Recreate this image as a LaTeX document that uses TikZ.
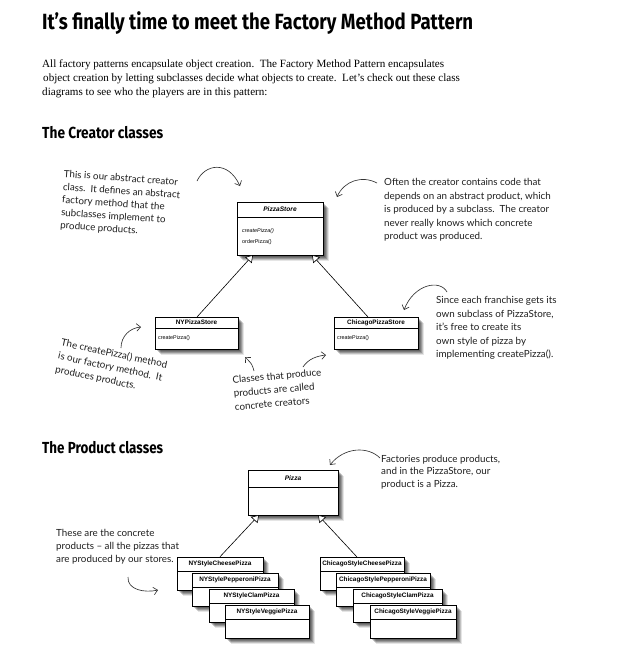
\documentclass[tikz,border=0pt]{standalone}
\usepackage{fontspec}
\usepackage{graphicx}
\setmainfont{Liberation Serif}
\newfontfamily\handfont{Lato}
\newfontfamily\umlfont{Liberation Sans}
\newfontfamily\headfont{Fira Sans}
\usetikzlibrary{arrows.meta,shadows}
\tikzset{
  blurshadow/.style={
    general shadow={fill=black, opacity=.20, shadow xshift=1.5pt, shadow yshift=-1.5pt},
    general shadow={fill=black, opacity=.20, shadow xshift=2.5pt, shadow yshift=-2.5pt},
    general shadow={fill=black, opacity=.20, shadow xshift=3.5pt, shadow yshift=-3.5pt},
    general shadow={fill=black, opacity=.16, shadow xshift=4.5pt, shadow yshift=-4.5pt},
    general shadow={fill=black, opacity=.10, shadow xshift=5.5pt, shadow yshift=-5.5pt}},
  classbox/.style={draw, line width=0.5pt, fill=white, inner sep=0pt, blurshadow},
  classline/.style={line width=0.5pt},
  ctitle/.style={inner sep=0pt, font=\umlfont\bfseries\fontsize{6.4}{7}\selectfont},
  atitle/.style={inner sep=0pt, font=\umlfont\bfseries\itshape\fontsize{6.6}{7}\selectfont},
  cmethod/.style={inner sep=0pt, anchor=west, font=\umlfont\fontsize{5.4}{6}\selectfont},
  amethod/.style={inner sep=0pt, anchor=west, font=\umlfont\itshape\fontsize{5.4}{6}\selectfont},
  genline/.style={line width=0.6pt, -{Triangle[open, length=7pt, width=9pt, fill=white]}},
  handtext/.style={inner sep=0pt, align=left, text=black!88, font=\handfont\fontsize{9.8}{13.6}\selectfont},
  handarrow/.style={line width=0.65pt, black!80, -{Straight Barb[length=4pt, width=7.5pt]}},
  bodytext/.style={inner sep=0pt, anchor=base west, font=\fontsize{11.1}{14}\selectfont},
  heading/.style={inner sep=0pt, anchor=base west}
}
\newcommand{\UMLcls}[8]{%
  \node[classbox, minimum width={(#4-#2)*1pt}, minimum height={(#5-#3)*1pt}] (#1) at ({(#2+#4)/2},{(#3+#5)/2}) {};
  \draw[classline] (#2,#6) -- (#4,#6);
  \node[#8] (#1-title) at ({(#2+#4)/2},{(#3+#6)/2}) {#7};
}
\begin{document}
\begin{tikzpicture}[x=1pt, y=-1pt]
\useasboundingbox (0,0) rectangle (618,648);
\fill[white] (0,0) rectangle (618,648);

% headings and body
\node[heading] (title) at (42,29) {\resizebox{431pt}{\height}{\headfont\bfseries\fontsize{22}{22}\selectfont It’s finally time to meet the Factory Method Pattern}};
\node[bodytext] (p1) at (42,67) {All factory patterns encapsulate object creation.\ \ The Factory Method Pattern encapsulates};
\node[bodytext] (p2) at (43,81) {object creation by letting subclasses decide what objects to create.\ \ Let’s check out these class};
\node[bodytext] (p3) at (42,95) {diagrams to see who the players are in this pattern:};
\node[heading] (h1) at (42,138) {\resizebox{121pt}{\height}{\headfont\bfseries\fontsize{16}{16}\selectfont The Creator classes}};
\node[heading] (h2) at (42,453) {\resizebox{121pt}{\height}{\headfont\bfseries\fontsize{16}{16}\selectfont The Product classes}};

% creator classes
\UMLcls{ps}{237}{202}{323}{255}{217}{PizzaStore}{atitle}
\node[amethod] (ps-m1) at (242,231) {createPizza()};
\node[cmethod] (ps-m2) at (242,242) {orderPizza()};
\UMLcls{ny}{155}{317}{238}{349}{328}{NYPizzaStore}{ctitle}
\node[cmethod] (ny-m1) at (158,338) {createPizza()};
\UMLcls{ch}{334}{317}{418}{349}{328}{ChicagoPizzaStore}{ctitle}
\node[cmethod] (ch-m1) at (337,338) {createPizza()};

\coordinate (psL) at (253,255);
\coordinate (psR) at (312,255);
\coordinate (nyT) at (197,317);
\coordinate (chT) at (368,317);
\draw[genline] (nyT) -- (psL);
\draw[genline] (chT) -- (psR);

% product classes
\UMLcls{pz}{248}{470}{338}{515}{487}{Pizza}{atitle}
\UMLcls{nyc}{177}{557}{263}{590}{571}{NYStyleCheesePizza}{ctitle}
\UMLcls{nyp}{192}{573}{278}{606}{587}{NYStylePepperoniPizza}{ctitle}
\UMLcls{nycl}{209}{589}{294}{622}{603}{NYStyleClamPizza}{ctitle}
\UMLcls{nyv}{225}{605}{309}{638}{619}{NYStyleVeggiePizza}{ctitle}
\UMLcls{chc}{320}{557}{404}{590}{571}{ChicagoStyleCheesePizza}{ctitle}
\UMLcls{chp}{336}{573}{430}{606}{587}{ChicagoStylePepperoniPizza}{ctitle}
\UMLcls{chcl}{353}{589}{442}{622}{603}{ChicagoStyleClamPizza}{ctitle}
\UMLcls{chv}{370}{605}{456}{638}{619}{ChicagoStyleVeggiePizza}{ctitle}

\coordinate (pzL) at (259,515);
\coordinate (pzR) at (318,515);
\coordinate (chcT) at (357,557);
\draw[genline] (nyc.north) -- (pzL);
\draw[genline] (chcT) -- (pzR);

% annotations
\node[handtext, anchor=north west, rotate=-4, font=\handfont\fontsize{9.8}{12.8}\selectfont] (a1) at (64,170) {This is our abstract creator\\class.\ \ It defines an abstract\\factory method that the\\subclasses implement to\\produce products.};
\node[handtext, anchor=north west] (a2) at (384,178) {Often the creator contains code that\\depends on an abstract product, which\\is produced by a subclass.\ \ The creator\\never really knows which concrete\\product was produced.};
\node[handtext, anchor=north west] (a3) at (436,296) {Since each franchise gets its\\own subclass of PizzaStore,\\it’s free to create its\\own style of pizza by\\implementing createPizza().};
\node[handtext, anchor=north west, rotate=-12] (a4) at (62,338) {The createPizza() method\\is our factory method.\ \ It\\produces products.};
\node[handtext, anchor=north west, rotate=5] (a5) at (232,376) {Classes that produce\\products are called\\concrete creators};
\node[handtext, anchor=north west, font=\handfont\fontsize{9.8}{12.5}\selectfont] (a6) at (381,455) {Factories produce products,\\and in the PizzaStore, our\\product is a Pizza.};
\node[handtext, anchor=north west, font=\handfont\fontsize{9.8}{12.8}\selectfont] (a7) at (56,529) {These are the concrete\\products – all the pizzas that\\are produced by our stores.};

% hand-drawn arrows
\coordinate (r1s) at (197,181);
\coordinate (r1e) at (240,186);
\draw[handarrow] (r1s) .. controls (205,164) and (228,160) .. (r1e);
\coordinate (r2s) at (377,183);
\coordinate (r2e) at (337,197);
\draw[handarrow] (r2s) .. controls (362,175) and (344,181) .. (r2e);
\coordinate (r3s) at (447,292);
\coordinate (r3e) at (404,310);
\draw[handarrow] (r3s) .. controls (440,279) and (414,284) .. (r3e);
\coordinate (r4s) at (121,348);
\coordinate (r4e) at (141,327);
\draw[handarrow] (r4s) .. controls (121,336) and (130,328) .. (r4e);
\coordinate (r5s) at (254,371);
\coordinate (r5e) at (245,357);
\draw[handarrow] (r5s) .. controls (252,364) .. (r5e);
\coordinate (r6s) at (303,367);
\coordinate (r6e) at (326,355);
\draw[handarrow] (r6s) .. controls (308,359) and (317,356) .. (r6e);
\coordinate (r7s) at (380,458);
\coordinate (r7e) at (330,465);
\draw[handarrow] (r7s) .. controls (368,446) and (344,447) .. (r7e);
\coordinate (r8s) at (128,577);
\coordinate (r8e) at (158,590);
\draw[handarrow] (r8s) .. controls (127,590) and (145,593) .. (r8e);
\end{tikzpicture}
\end{document}
